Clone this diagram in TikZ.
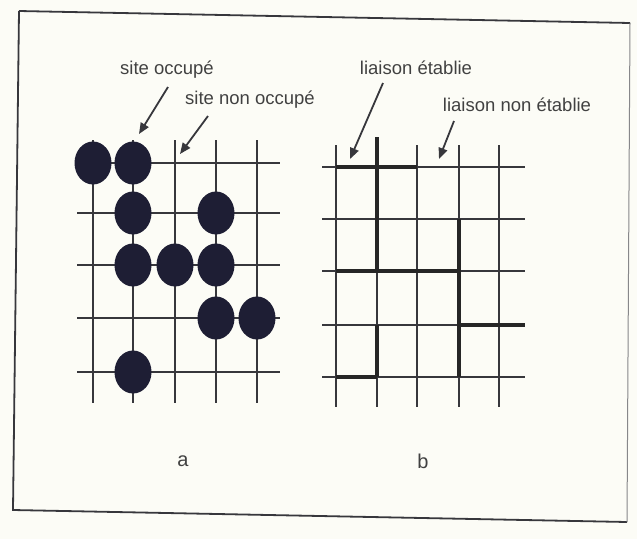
\documentclass[tikz,border=0pt]{standalone}
\usepackage{fontspec}
\setmainfont{Liberation Sans}
\usetikzlibrary{arrows.meta,shapes.geometric}
\definecolor{ink}{RGB}{55,55,60}
\definecolor{dot}{RGB}{30,30,52}
\definecolor{paper}{RGB}{252,252,246}
\definecolor{txt}{RGB}{65,65,65}
\begin{document}
\begin{tikzpicture}[x=1pt,y=-1pt,
  gridline/.style={draw=ink,line width=1.3pt},
  bond/.style={draw=black!85,line width=4pt},
  site/.style={ellipse,fill=dot,minimum width=37pt,minimum height=43pt,inner sep=0pt},
  lbl/.style={font=\fontsize{18.5}{20}\selectfont,text=txt,inner sep=0pt},
  ptr/.style={draw=ink,line width=1.8pt,-{Triangle[length=11pt,width=9pt]}},
  frame/.style={draw=ink,line width=1.8pt}]
\fill[paper] (0,0) rectangle (637,539);
\useasboundingbox (0,0) rectangle (637,539);
% frame
\draw[frame] (19,11) -- (630,23);
\draw[frame] (19,11) -- (13,510) -- (627,522);
\draw[draw=ink!60,line width=1pt] (630,23) -- (627,522);
% grid a
\foreach \x in {93,133,175,216,257} \draw[gridline] (\x,140) -- (\x,403);
\foreach \y in {163,213,265,318,372} \draw[gridline] (77,\y) -- (280,\y);
\node[site] (s1) at (93,163) {};
\node[site] (s2) at (133,163) {};
\node[site] (s3) at (133,213) {};
\node[site] (s4) at (216,213) {};
\node[site] (s5) at (133,265) {};
\node[site] (s6) at (175,265) {};
\node[site] (s7) at (216,265) {};
\node[site] (s8) at (216,318) {};
\node[site] (s9) at (257,318) {};
\node[site] (s10) at (133,372) {};
% grid b
\foreach \x in {336,377,417,459,499} \draw[gridline] (\x,145) -- (\x,407);
\foreach \y in {167,219,271,325,377} \draw[gridline] (322,\y) -- (525,\y);
\draw[bond] (336,167) -- (417,167);
\draw[bond] (377,137) -- (377,271);
\draw[bond] (336,271) -- (459,271);
\draw[bond] (459,219) -- (459,377);
\draw[bond] (459,325) -- (525,325);
\draw[bond] (377,325) -- (377,377);
\draw[bond] (336,377) -- (377,377);
% labels
\node[lbl] (l1) at (167,70) {site occupé};
\node[lbl] (l2) at (250,100) {site non occupé};
\node[lbl] (l3) at (416,68) {liaison établie};
\node[lbl] (l4) at (517,105) {liaison non établie};
\coordinate (p1a) at (168,87);  \coordinate (p1b) at (139,134);
\coordinate (p2a) at (208,116); \coordinate (p2b) at (180,154);
\coordinate (p3a) at (383,83);  \coordinate (p3b) at (350,159);
\coordinate (p4a) at (454,121); \coordinate (p4b) at (439,159);
\draw[ptr] (p1a) -- (p1b);
\draw[ptr] (p2a) -- (p2b);
\draw[ptr] (p3a) -- (p3b);
\draw[ptr] (p4a) -- (p4b);
\node[lbl,font=\fontsize{20}{22}\selectfont] (ca) at (183,461) {a};
\node[lbl,font=\fontsize{20}{22}\selectfont] (cb) at (423,461) {b};
\end{tikzpicture}
\end{document}
